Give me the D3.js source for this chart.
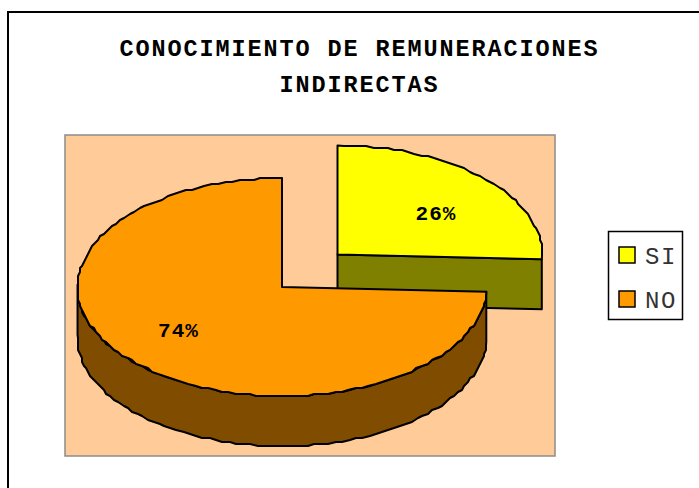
<!DOCTYPE html>
<html><head><meta charset="utf-8">
<script src="https://cdn.jsdelivr.net/npm/d3@7"></script>
<style>html,body{margin:0;padding:0;background:#fff;overflow:hidden}svg{display:block}text{font-family:"Liberation Mono","Courier New",monospace}</style>
</head><body>
<svg id="c" width="699" height="488"></svg>
<script>
const categories = ["SI","NO"];
const values = [25.7,74.3];
const colors = ["#FFFF00","#FF9900"];
const sideColors = ["#808000","#804D00"];
const titleLines = ["CONOCIMIENTO DE REMUNERACIONES","INDIRECTAS"];

const svg = d3.select("#c");
// frame
svg.append("path").attr("d","M8 488V12H699").attr("fill","none").attr("stroke","#000").attr("stroke-width",2);
// title
svg.selectAll("text.t").data(titleLines).join("text").attr("class","t")
  .attr("x",359.5).attr("y",(d,i)=>55.5+i*36).attr("text-anchor","middle")
  .attr("font-size",23.5).attr("font-weight","bold").attr("letter-spacing",1.9).text(d=>d);
// plot area
svg.append("rect").attr("x",65).attr("y",135).attr("width",490).attr("height",321)
  .attr("fill","#FFCC99").attr("stroke","#8c8c8c").attr("stroke-width",1.5);

const rx=204.5, ry=109, depth=50;
const centers=[{x:337.5,y:254.5},{x:282,y:287}];
const pie=d3.pie().sort(null).value(d=>d)(values);
const pt=(c,a)=>[c.x+rx*Math.sin(a), c.y-ry*Math.cos(a)];
const snap=p=>[Math.round(p[0]/2)*2,Math.round(p[1]/2)*2];
const arcPts=(c,a0,a1)=>{const n=Math.max(2,Math.round((a1-a0)/0.035));
  const pts=d3.range(n+1).map(i=>snap(pt(c,a0+(a1-a0)*i/n)));
  pts[0]=pt(c,a0);pts[n]=pt(c,a1);return pts;};
const line=d3.line();
const draw=(pts,fill)=>svg.append("path").attr("d",line(pts)+"Z").attr("fill",fill)
  .attr("stroke","#000").attr("stroke-width",2).attr("stroke-linejoin","round");

const s=pie[0], n=pie[1];
const c0=centers[0], c1=centers[1];
const e0=pt(c0,s.endAngle);
draw([[c0.x,c0.y],e0,[e0[0],e0[1]+depth],[c0.x,c0.y+depth]],sideColors[0]);
draw([[c0.x,c0.y],...arcPts(c0,s.startAngle,s.endAngle)],colors[0]);

const rim=arcPts(c1,n.startAngle,3*Math.PI/2+0.02);
draw([...rim,...rim.slice().reverse().map(p=>[p[0],p[1]+depth])],sideColors[1]);
draw([[c1.x,c1.y],...arcPts(c1,n.startAngle,n.endAngle)],colors[1]);

const labels=[{x:436,y:220},{x:178.5,y:337}];
const fmt=d3.format(".0f");
svg.selectAll("text.l").data(values).join("text").attr("class","l")
  .attr("x",(d,i)=>labels[i].x).attr("y",(d,i)=>labels[i].y).attr("text-anchor","middle")
  .attr("font-size",21).attr("font-weight","bold").attr("letter-spacing",1).text(d=>fmt(d)+"%");

svg.append("rect").attr("x",608.5).attr("y",231.5).attr("width",74).attr("height",88)
  .attr("fill","#fff").attr("stroke","#000").attr("stroke-width",1.5);
const ly=d3.scalePoint().domain(categories).range([255,299]);
svg.selectAll("rect.k").data(categories).join("rect").attr("class","k")
  .attr("x",619).attr("y",d=>ly(d)-8).attr("width",16).attr("height",16)
  .attr("fill",(d,i)=>colors[i]).attr("stroke","#000").attr("stroke-width",1.5);
svg.selectAll("text.k").data(categories).join("text").attr("class","k")
  .attr("x",645).attr("y",d=>ly(d)+9).attr("font-size",24).attr("letter-spacing",1.5).attr("fill","#333").text(d=>d);
</script>
</body></html>
